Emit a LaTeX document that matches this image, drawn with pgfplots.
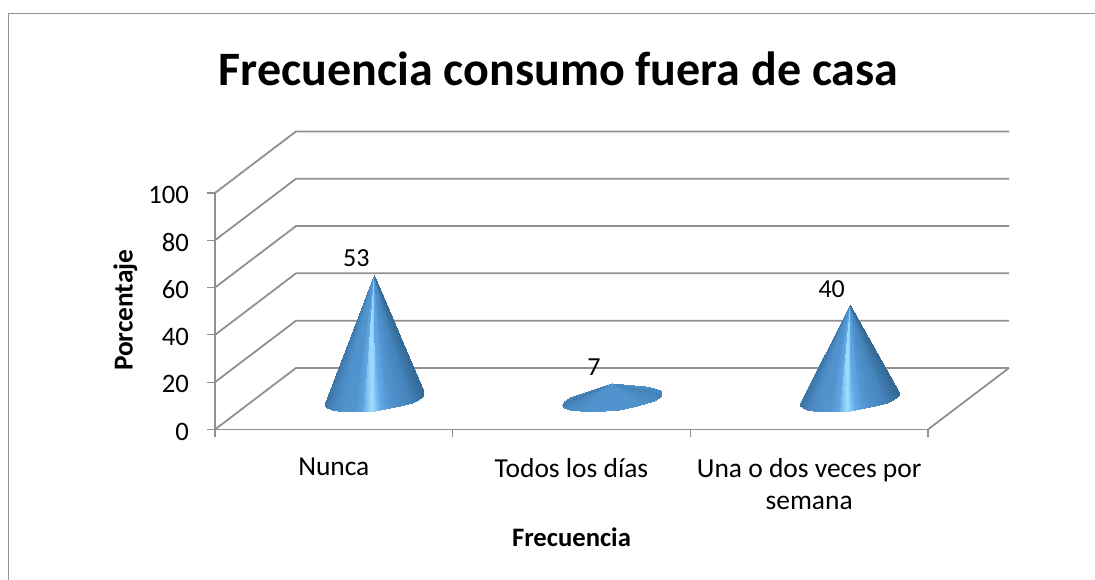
\documentclass[border=0pt]{standalone}
\usepackage{pgfplots}
\usepackage{pgfplotstable}
\usepackage{fontspec}
\pgfplotsset{compat=1.18}
\setmainfont{Carlito}
\definecolor{gridgray}{HTML}{909090}
\definecolor{framegray}{HTML}{949494}

% Outline of a tall cone: a=1 is the apex row, a=0 the base rim; dx, dy are rim offsets
\pgfplotstableread{
a dx dy u
1 -.2080 -1.835 0
1 -.2076 -2.872 .002
1 -.1982 -3.784 .024
1 -.1801 -4.530 .067
1 -.1541 -5.079 .130
1 -.1214 -5.405 .208
1 -.0834 -5.495 .300
1 -.0417 -5.345 .400
1 .0018 -4.962 .504
1 .0452 -4.361 .609
1 .0866 -3.570 .708
1 .1242 -2.623 .799
1 .1565 -1.561 .876
1 .1818 -.431 .937
1 .1992 .717 .979
1 .2080 1.835 1
1 .2080 2.790 1
0 -.2080 -1.835 0
0 -.2076 -2.872 .002
0 -.1982 -3.784 .024
0 -.1801 -4.530 .067
0 -.1541 -5.079 .130
0 -.1214 -5.405 .208
0 -.0834 -5.495 .300
0 -.0417 -5.345 .400
0 .0018 -4.962 .504
0 .0452 -4.361 .609
0 .0866 -3.570 .708
0 .1242 -2.623 .799
0 .1565 -1.561 .876
0 .1818 -.431 .937
0 .1992 .717 .979
0 .2080 1.835 1
0 .2080 2.790 1
}\tallcone

% Outline of a low cone, whose apex barely clears the rim
\pgfplotstableread{
a dx dy u
1 -.1381 2.200 .12
1 -.1766 .699 .08
1 -.2008 -.860 .05
1 -.2089 -2.349 .03
1 -.2003 -3.650 .06
1 -.1755 -4.657 .11
1 -.1366 -5.289 .17
1 -.0867 -5.497 .22
1 -.0299 -5.262 .25
1 .0294 -4.605 .25
1 .0863 -3.577 .22
1 .1362 -2.262 .17
1 .1752 -.765 .11
1 .2001 .794 .07
1 .2089 2.288 .05
1 .2010 3.599 .09
1 .1769 4.621 .14
1 .1382 5.273 .18
0 -.1381 2.200 .12
0 -.1766 .699 .08
0 -.2008 -.860 .05
0 -.2089 -2.349 .03
0 -.2003 -3.650 .06
0 -.1755 -4.657 .11
0 -.1366 -5.289 .17
0 -.0867 -5.497 .22
0 -.0299 -5.262 .25
0 .0294 -4.605 .25
0 .0863 -3.577 .22
0 .1362 -2.262 .17
0 .1752 -.765 .11
0 .2001 .794 .07
0 .2089 2.288 .05
0 .2010 3.599 .09
0 .1769 4.621 .14
0 .1382 5.273 .18
}\lowcone

% \cone{outline}{columns}{x of the base centre}{value}
\newcommand{\cone}[4]{%
  \addplot[surf, shader=interp, forget plot, mesh/rows=2, mesh/cols=#2,
    point meta=\thisrow{u}]
    table[x expr={#3+\thisrow{dx}*(1-\thisrow{a})},
          y expr={\thisrow{a}*(#4+12.5)+(1-\thisrow{a})*(12.9+\thisrow{dy})}] {#1};
  \node[font=\fontsize{19.5pt}{22pt}\selectfont, inner sep=0pt]
    at (axis cs:{#3-.0757},{#4+19.3}) {#4};
}
% Receding edge of the floor or side wall, followed by the back wall line
\newcommand{\wall}[1]{%
  \addplot[gridgray, line width=1.35pt, forget plot, line join=round]
    coordinates {(0,#1) (.3408,#1+26) (3.3408,#1+26)};
}

\begin{document}
\begin{tikzpicture}[x=1pt,y=1pt]
% page extent and the open frame along its top and left
\path[use as bounding box] (0,0) rectangle (821.25,435);
\draw[framegray, line width=1.2pt] (6.4,0) -- (6.4,424.9) -- (821.25,424.9);
\begin{axis}[
  at={(161.25pt,112.9pt)}, anchor=origin,
  scale only axis, width=534.75pt, height=177.4pt,
  xmin=0, xmax=3, ymin=0, ymax=100,
  clip=false,
  axis x line*=bottom, axis y line*=left,
  axis line style={gridgray, line width=1.35pt, -},
  tick style={gridgray, line width=.9pt},
  xtick={.5,1.5,2.5},
  xticklabels={Nunca,Todos los días,Una o dos veces por\\semana},
  minor xtick={0,1,2,3},
  major x tick style={draw=none},
  minor tick length=6pt,
  ytick={0,20,40,60,80,100},
  tick align=outside,
  major tick length=6pt,
  y tick label style={font=\fontsize{20pt}{23pt}\selectfont, xshift=-10pt, yshift=-1.5pt},
  x tick label style={font=\fontsize{20.6pt}{24.2pt}\selectfont, align=center, anchor=north, yshift=-12pt},
  /pgf/number format/assume math mode=true,
  colormap={conetone}{
    rgb255(0)=(60,118,168) rgb255(8)=(74,136,192) rgb255(18)=(80,146,204) rgb255(30)=(82,148,208)
    rgb255(38)=(94,164,224) rgb255(47)=(158,222,255) rgb255(56)=(98,168,230)
    rgb255(66)=(82,148,208) rgb255(85)=(70,132,188) rgb255(100)=(52,106,150)},
  point meta min=0, point meta max=1,
]
% floor, side wall and back wall
\wall{0}\wall{20}\wall{40}\wall{60}\wall{80}\wall{100}
\addplot[gridgray, line width=1.35pt, forget plot] coordinates {(3,0) (3.3408,26)};

% one cone per category, drawn up to its percentage
\cone{\tallcone}{17}{.6704}{53}
\cone{\lowcone}{18}{1.6704}{7}
\cone{\tallcone}{17}{2.6704}{40}

% axis titles and chart title
\node[font=\bfseries\fontsize{20.5pt}{24pt}\selectfont, rotate=90] at (axis cs:-.3775,50.4) {Porcentaje};
\node[font=\bfseries\fontsize{20pt}{24pt}\selectfont] at (axis cs:1.5,-45.5) {Frecuencia};
\node[font=\bfseries\fontsize{36pt}{44pt}\selectfont] at (axis cs:1.446,152.3) {Frecuencia consumo fuera de casa};
\end{axis}
\end{tikzpicture}
\end{document}
